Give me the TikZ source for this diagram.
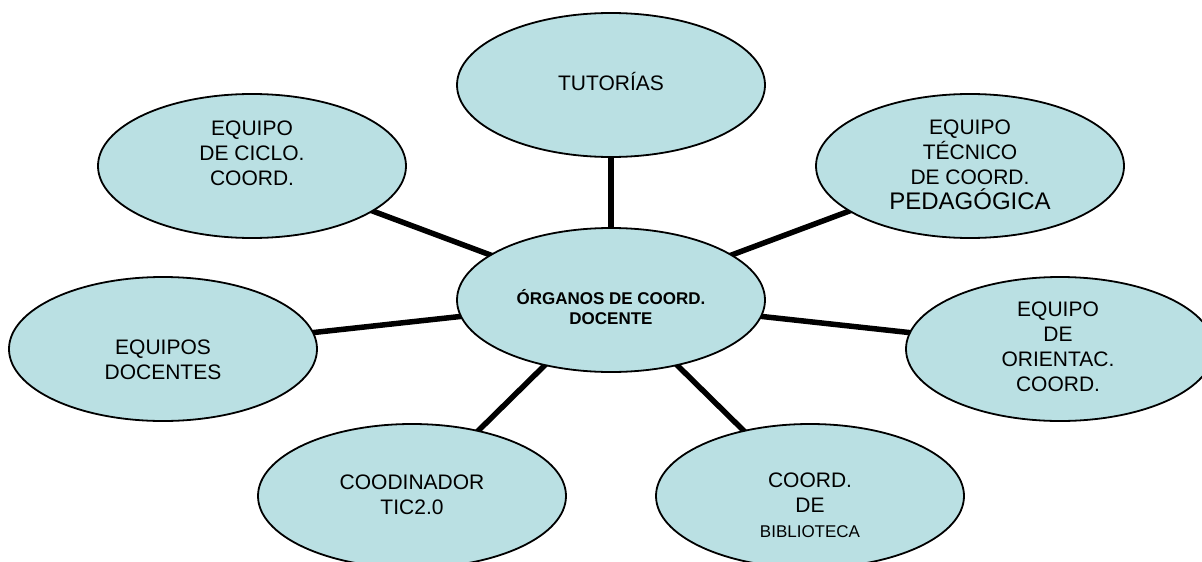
\documentclass[tikz,border=0pt]{standalone}
\usepackage{fontspec}
\setmainfont{Liberation Sans}
\usetikzlibrary{shapes.geometric}
\pgfdeclarelayer{bg}
\pgfsetlayers{bg,main}
\definecolor{bubble}{RGB}{186,224,227}
\tikzset{
  bubble/.style={ellipse, draw=black, line width=1.8pt, fill=bubble,
    minimum width=308pt, minimum height=144pt, inner sep=0pt},
  label/.style={align=center, inner sep=0pt, text=black,
    font=\fontsize{21}{25}\selectfont},
  boldlabel/.style={align=center, inner sep=0pt, text=black,
    font=\bfseries\fontsize{17}{19.5}\selectfont},
  link/.style={line width=5.5pt, black}
}
\begin{document}
\begin{tikzpicture}[x=1pt,y=-1pt]
\useasboundingbox (0,0) rectangle (1202,562);
\clip (0,0) rectangle (1202,562);
\node[bubble] (c) at (611,300) {};
\node[bubble] (tut) at (611,85) {};
\node[bubble] (cic) at (252,166) {};
\node[bubble] (tec) at (970,166) {};
\node[bubble] (doc) at (163,349) {};
\node[bubble] (ori) at (1060,349) {};
\node[bubble] (tic) at (412,496) {};
\node[bubble] (bib) at (810,496) {};
\begin{pgfonlayer}{bg}
\foreach \n in {tut,cic,tec,doc,ori,tic,bib}
  \draw[link] (c.center) -- (\n.center);
\end{pgfonlayer}
\node[boldlabel] (tc) at (611,307) {ÓRGANOS DE COORD.\\DOCENTE};
\node[label] (ttut) at (611,81.5) {TUTORÍAS};
\node[label] (tcic) at (252,153) {EQUIPO\\DE CICLO.\\COORD.};
\node[label] (ttec) at (970,165) {EQUIPO\\TÉCNICO\\DE COORD.\\{\fontsize{24}{28}\selectfont PEDAGÓGICA}};
\node[label] (tdoc) at (163,359.5) {EQUIPOS\\DOCENTES};
\node[label] (tori) at (1058,347) {EQUIPO\\DE\\ORIENTAC.\\COORD.};
\node[label] (ttic) at (412,494.5) {COODINADOR\\TIC2.0};
\node[label] (tbib) at (810,505) {COORD.\\DE\\{\fontsize{17}{20}\selectfont BIBLIOTECA}};
\end{tikzpicture}
\end{document}
